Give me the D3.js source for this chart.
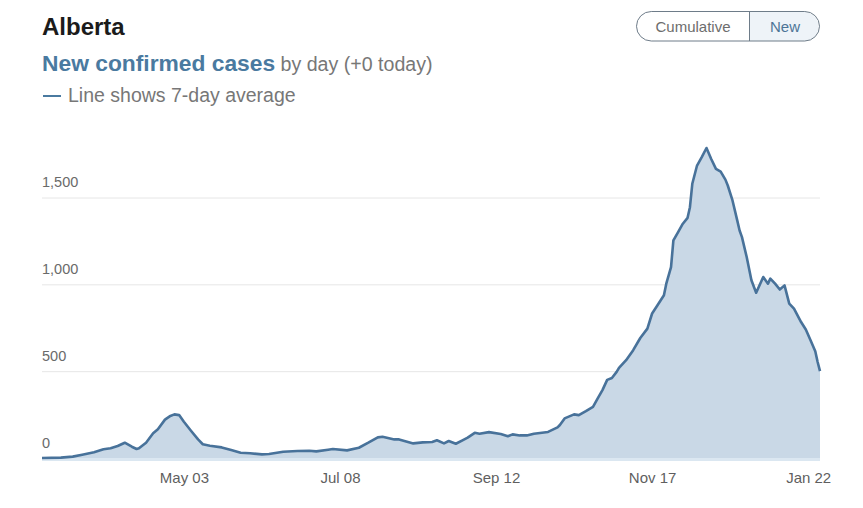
<!DOCTYPE html>
<html>
<head>
<meta charset="utf-8">
<script src="https://cdn.jsdelivr.net/npm/d3@7"></script>
<style>
body { margin: 0; background: #fff; font-family: "Liberation Sans", Arial, sans-serif; }
</style>
</head>
<body>
<div id="chart"></div>
<script>
// 7-day average of new cases
var dates = [
	'2020-03-04','2020-03-12','2020-03-17','2020-03-21','2020-03-26','2020-03-30',
	'2020-04-02','2020-04-05','2020-04-08','2020-04-11','2020-04-13','2020-04-14',
	'2020-04-17','2020-04-20','2020-04-22','2020-04-25','2020-04-27','2020-04-29',
	'2020-05-01','2020-05-03','2020-05-06','2020-05-09','2020-05-11','2020-05-14',
	'2020-05-19','2020-05-23','2020-05-27','2020-05-31','2020-06-05','2020-06-08',
	'2020-06-14','2020-06-20','2020-06-25','2020-06-28','2020-07-03','2020-07-05',
	'2020-07-11','2020-07-16','2020-07-20','2020-07-24','2020-07-26','2020-07-31',
	'2020-08-02','2020-08-08','2020-08-12','2020-08-16','2020-08-18','2020-08-21',
	'2020-08-23','2020-08-26','2020-08-29','2020-08-31','2020-09-03','2020-09-05',
	'2020-09-09','2020-09-14','2020-09-17','2020-09-19','2020-09-22','2020-09-25',
	'2020-09-28','2020-10-04','2020-10-08','2020-10-09','2020-10-11','2020-10-15',
	'2020-10-17','2020-10-20','2020-10-23','2020-10-25','2020-10-27','2020-10-29',
	'2020-10-31','2020-11-02','2020-11-03','2020-11-06','2020-11-09','2020-11-12',
	'2020-11-15','2020-11-17','2020-11-19','2020-11-22','2020-11-23','2020-11-25',
	'2020-11-26','2020-11-28','2020-11-30','2020-12-02','2020-12-03','2020-12-04',
	'2020-12-06','2020-12-08','2020-12-10','2020-12-12','2020-12-14','2020-12-16',
	'2020-12-18','2020-12-19','2020-12-21','2020-12-23','2020-12-24','2020-12-25',
	'2020-12-27','2020-12-29','2020-12-31','2021-01-03','2021-01-05','2021-01-06',
	'2021-01-08','2021-01-10','2021-01-12','2021-01-14','2021-01-16','2021-01-19',
	'2021-01-21','2021-01-23','2021-01-25','2021-01-26','2021-01-27'
];
var cases = [
	0, 2, 8, 19, 33, 50,
	56, 69, 88, 65, 52, 56,
	88, 142, 165, 221, 240, 251,
	247, 209, 157, 107, 79, 71,
	61, 46, 30, 27, 21, 23,
	36, 40, 42, 38, 48, 52,
	44, 59, 88, 119, 122, 107,
	107, 84, 90, 92, 102, 84,
	98, 82, 103, 117, 145, 140,
	149, 138, 125, 136, 130, 130,
	140, 150, 176, 190, 228, 251,
	247, 270, 295, 343, 391, 450,
	461, 496, 519, 563, 621, 691,
	745, 832, 874, 937, 1004, 1099,
	1253, 1301, 1349, 1383, 1444, 1579,
	1684, 1732, 1785, 1722, 1665, 1649,
	1603, 1569, 1483, 1368, 1310, 1272,
	1157, 1023, 952, 1042, 1004, 1033,
	1004, 970, 994, 889, 860, 783,
	740, 678, 615, 553, 500
];
var yTicks = [0, 500, 1000, 1500];
var xTicks = ['2020-05-03','2020-07-08','2020-09-12','2020-11-17','2021-01-22'];
var toggleLabels = ['Cumulative', 'New'];

var parse = d3.timeParse('%Y-%m-%d');
var data = dates.map(function(d, i){
	return {date: parse(d), value: cases[i]};
});

var width = 863, height = 508;
var left = 42, right = 820, bottom = 458;
var blue = '#4a7aa0';

var svg = d3.select('#chart').append('svg')
	.attr('width', width).attr('height', height);

// header
svg.append('text')
	.attr('x', left).attr('y', 35)
	.attr('font-size', 24).attr('font-weight', 'bold')
	.attr('fill', '#1b1b1b')
	.text('Alberta');

var sub = svg.append('text')
	.attr('x', left).attr('y', 71);
sub.append('tspan')
	.attr('font-size', 22.8).attr('font-weight', 'bold')
	.attr('fill', blue)
	.text('New confirmed cases');
sub.append('tspan')
	.attr('font-size', 19.6).attr('fill', '#777')
	.text(' by day (+0 today)');

svg.append('line')
	.attr('x1', 43).attr('x2', 61)
	.attr('y1', 96).attr('y2', 96)
	.attr('stroke', blue).attr('stroke-width', 2);
svg.append('text')
	.attr('x', 68).attr('y', 102)
	.attr('font-size', 19.5).attr('fill', '#777')
	.text('Line shows 7-day average');

// toggle
var tg = svg.append('g');
tg.append('path')
	.attr('d', 'M750,12 H804 A14.5,14.5 0 0 1 804,41 H750 Z')
	.attr('fill', '#eef3f8');
tg.append('rect')
	.attr('x', 636.5).attr('y', 11.5)
	.attr('width', 183).attr('height', 29.5)
	.attr('rx', 14.75)
	.attr('fill', 'none').attr('stroke', '#6e7c89').attr('stroke-width', 1);
tg.append('line')
	.attr('x1', 749.5).attr('x2', 749.5)
	.attr('y1', 11.5).attr('y2', 41)
	.attr('stroke', '#6e7c89').attr('stroke-width', 1);
tg.selectAll('text.tog')
	.data(toggleLabels)
	.enter().append('text')
	.attr('class', 'tog')
	.attr('x', function(d, i){ return i == 0 ? 693 : 785; })
	.attr('y', 32)
	.attr('text-anchor', 'middle')
	.attr('font-size', 15)
	.attr('fill', function(d, i){ return i == 0 ? '#6d6d6d' : '#4d7597'; })
	.text(function(d){ return d; });

// scales
var x = d3.scaleTime()
	.domain([parse('2020-03-04'), parse('2021-01-27')])
	.range([left, right]);
var y = d3.scaleLinear()
	.domain([0, 1500])
	.range([bottom, 197.5]);

// grid
svg.selectAll('line.grid')
	.data(yTicks.slice(1))
	.enter().append('line')
	.attr('class', 'grid')
	.attr('x1', left).attr('x2', right)
	.attr('y1', function(d){ return y(d) + 0.5; })
	.attr('y2', function(d){ return y(d) + 0.5; })
	.attr('stroke', '#e6e6e6').attr('stroke-width', 1);

svg.selectAll('text.ylab')
	.data(yTicks)
	.enter().append('text')
	.attr('class', 'ylab')
	.attr('x', left)
	.attr('y', function(d){ return y(d) - 10.5; })
	.attr('font-size', 14.5).attr('fill', '#6a6a6a')
	.text(d3.format(','));

// area + line
var area = d3.area()
	.x(function(d){ return x(d.date); })
	.y0(y(0))
	.y1(function(d){ return y(d.value); });
var line = d3.line()
	.x(function(d){ return x(d.date); })
	.y(function(d){ return y(d.value); });

svg.append('path')
	.datum(data)
	.attr('d', area)
	.attr('fill', '#c9d8e6');

svg.append('line')
	.attr('x1', left).attr('x2', right)
	.attr('y1', y(0) + 1.5).attr('y2', y(0) + 1.5)
	.attr('stroke', '#dbe7f1').attr('stroke-width', 3);

svg.append('path')
	.datum(data)
	.attr('d', line)
	.attr('fill', 'none')
	.attr('stroke', '#48729a')
	.attr('stroke-width', 2.6)
	.attr('stroke-linejoin', 'round');

// x axis
var xAxis = d3.axisBottom(x)
	.tickValues(xTicks.map(parse))
	.tickFormat(d3.timeFormat('%b %d'))
	.tickSize(0)
	.tickPadding(14);

var ax = svg.append('g')
	.attr('transform', 'translate(0,' + bottom + ')')
	.call(xAxis);
ax.select('.domain').remove();
ax.selectAll('text')
	.attr('font-family', '"Liberation Sans", Arial, sans-serif')
	.attr('font-size', 15)
	.attr('fill', '#5f5f5f');
</script>
</body>
</html>
